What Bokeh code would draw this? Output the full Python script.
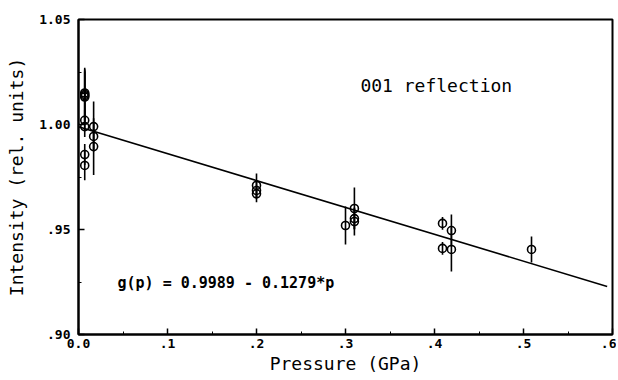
from bokeh.plotting import figure
from bokeh.models import FixedTicker, Label
from bokeh.embed import file_html
from bokeh.resources import INLINE

# --- data ---
pressure = [0.007, 0.007, 0.007, 0.007, 0.007, 0.007, 0.007, 0.007,
            0.017, 0.017, 0.017,
            0.200, 0.200, 0.200,
            0.300,
            0.310, 0.310, 0.310,
            0.409, 0.409,
            0.419, 0.419,
            0.509]
intensity = [1.0131, 1.0137, 1.0143, 1.0150, 1.0020, 0.9990, 0.9857, 0.9805,
             0.9990, 0.9943, 0.9895,
             0.9710, 0.9686, 0.9670,
             0.9519,
             0.9600, 0.9552, 0.9538,
             0.9529, 0.9410,
             0.9495, 0.9405,
             0.9405]
error = [0.012, 0.012, 0.012, 0.012, 0.005, 0.005, 0.005, 0.007,
         0.012, 0.006, 0.0135,
         0.0057, 0.004, 0.004,
         0.009,
         0.010, 0.005, 0.0067,
         0.003, 0.003,
         0.0076, 0.0105,
         0.0062]

fit_p = [0.0, 0.594]
fit_I = [0.9989, 0.9229]

x_ticks = [0.0, 0.1, 0.2, 0.3, 0.4, 0.5, 0.6]
x_tick_labels = ["0.0", ".1", ".2", ".3", ".4", ".5", ".6"]
x_minor = [0.05, 0.15, 0.25, 0.35, 0.45, 0.55]
y_ticks = [0.90, 0.95, 1.00, 1.05]
y_tick_labels = [".90", ".95", "1.00", "1.05"]
y_minor = [0.925, 0.975, 1.025]

FONT = "DejaVu Sans Mono"

p = figure(width=616, height=380, x_range=(0.0, 0.6), y_range=(0.90, 1.05),
           output_backend="svg", toolbar_location=None,
           min_border_left=78, min_border_right=4, min_border_top=19,
           min_border_bottom=46)
p.background_fill_color = "white"
p.border_fill_color = "white"
p.outline_line_color = "black"
p.outline_line_width = 2
p.xgrid.visible = False
p.ygrid.visible = False

p.xaxis.ticker = FixedTicker(ticks=x_ticks, minor_ticks=x_minor)
p.yaxis.ticker = FixedTicker(ticks=y_ticks, minor_ticks=y_minor)
p.xaxis.major_label_overrides = dict(zip(x_ticks, x_tick_labels))
p.yaxis.major_label_overrides = dict(zip(y_ticks, y_tick_labels))

for ax in (p.xaxis, p.yaxis):
    ax.axis_line_color = "black"
    ax.axis_line_width = 2
    ax.major_tick_in = 6
    ax.major_tick_out = 0
    ax.minor_tick_in = 3
    ax.minor_tick_out = 0
    ax.major_tick_line_color = "black"
    ax.minor_tick_line_color = "black"
    ax.major_tick_line_width = 1.5
    ax.major_label_text_font = FONT
    ax.major_label_text_font_size = "13px"
    ax.major_label_text_font_style = "bold"
    ax.major_label_text_color = "black"
    ax.axis_label_text_font = FONT
    ax.axis_label_text_font_style = "normal"
    ax.axis_label_text_color = "black"
    ax.axis_label_text_font_size = "18px"

p.xaxis.axis_label = "Pressure (GPa)"
p.xaxis.major_label_standoff = 4
p.xaxis.axis_label_standoff = 2
p.yaxis.axis_label = "Intensity (rel. units)"
p.yaxis.major_label_standoff = 8
p.yaxis.axis_label_standoff = 9

# fit line
p.line(fit_p, fit_I, line_color="black", line_width=1.6)

# error bars
lo = [i - e for i, e in zip(intensity, error)]
hi = [i + e for i, e in zip(intensity, error)]
p.segment(x0=pressure, y0=lo, x1=pressure, y1=hi, line_color="black", line_width=1.6)

# points
p.scatter(pressure, intensity, marker="circle", size=8, fill_alpha=0,
          line_color="black", line_width=1.6)

p.add_layout(Label(x=0.402, y=1.0186, text="001 reflection", text_font=FONT,
                   text_font_size="18px", text_align="center",
                   text_baseline="middle", text_color="black"))
p.add_layout(Label(x=0.0438, y=0.9245, text="g(p) = 0.9989 - 0.1279*p",
                   text_font=FONT, text_font_size="15px", text_font_style="bold",
                   text_align="left", text_baseline="middle", text_color="black"))

open("out.html", "w").write(file_html(p, INLINE))
